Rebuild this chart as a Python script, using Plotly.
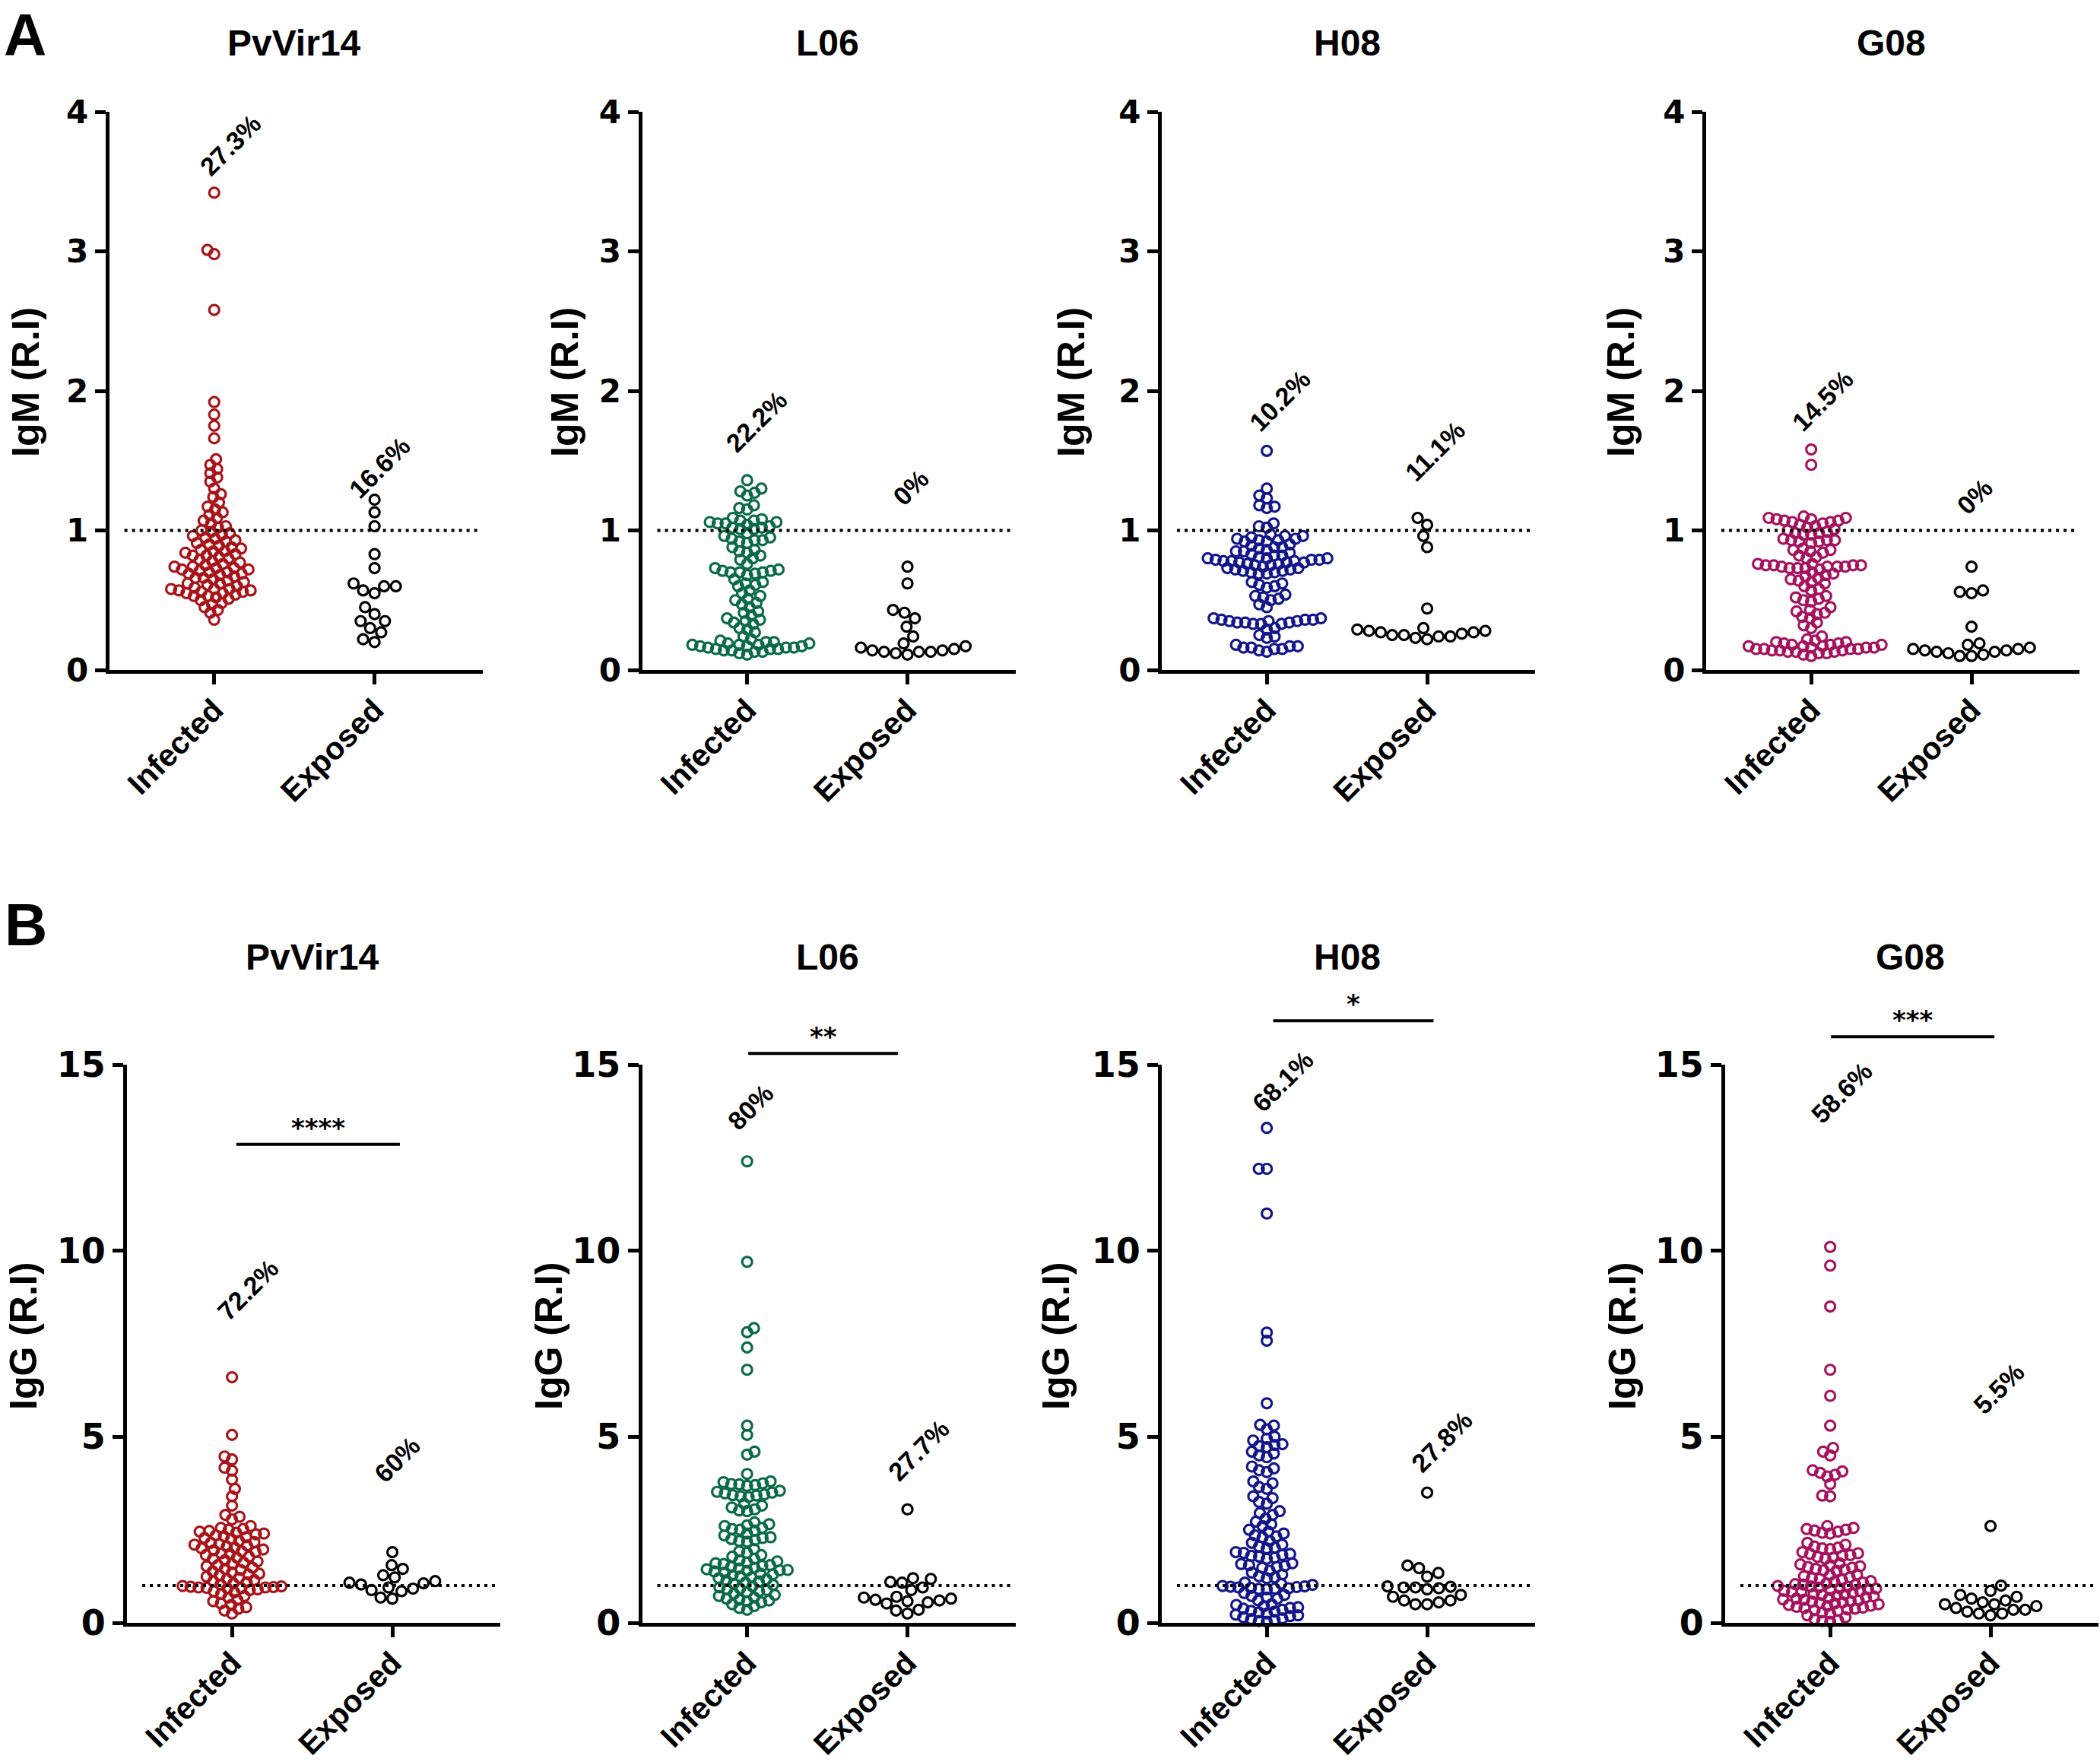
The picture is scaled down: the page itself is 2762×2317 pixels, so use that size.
import plotly.graph_objects as go

W, H = 2762, 2317

antigens = ["PvVir14", "L06", "H08", "G08"]
groups = ["Infected", "Exposed"]
colors = ["#A81419", "#0A6B46", "#13168A", "#A5125E"]

# IgM (R.I), panel A
igm_infected_pvvir14 = [3.42, 3.01, 2.98, 2.58, 1.92, 1.83, 1.75, 1.66, 1.51, 1.47, 1.44, 1.41, 1.38, 1.35,
                        1.3, 1.26, 1.24, 1.2, 1.17, 1.15, 1.13, 1.11, 1.09, 1.07, 1.05, 1.03, 1.02,
                        0.36, 0.41, 0.43, 0.45, 0.47, 0.48, 0.5, 0.51, 0.52, 0.53, 0.54, 0.55, 0.55, 0.56,
                        0.56, 0.57, 0.57, 0.58, 0.58, 0.59, 0.6, 0.61, 0.62, 0.63, 0.64, 0.65, 0.66, 0.67,
                        0.68, 0.69, 0.7, 0.7, 0.71, 0.72, 0.72, 0.73, 0.73, 0.74, 0.75, 0.76, 0.77, 0.78,
                        0.79, 0.8, 0.81, 0.82, 0.82, 0.83, 0.84, 0.85, 0.86, 0.87, 0.88, 0.89, 0.9, 0.91,
                        0.92, 0.93, 0.94, 0.95, 0.96, 0.97, 0.98, 0.99, 1.0, 0.85, 0.62, 0.58, 0.66, 0.74,
                        0.53, 0.69]
igm_exposed_pvvir14 = [0.6, 0.55, 0.45, 0.35, 0.2, 1.13, 1.03, 0.83, 0.73, 0.57, 0.35, 0.27, 1.22, 0.62,
                       0.4, 0.3, 0.22, 0.6]
igm_infected_l06 = [1.36, 1.3, 1.28, 1.27, 1.25, 1.18, 1.16, 1.15, 1.09, 1.08, 1.07, 1.07, 1.06, 1.06,
                    1.05, 1.05, 1.04, 1.03, 1.02, 1.02, 1.01, 1.01, 0.98, 0.96, 0.95, 0.94, 0.93, 0.93,
                    0.92, 0.91, 0.88, 0.86, 0.85, 0.84, 0.82, 0.8, 0.79, 0.76, 0.73, 0.72, 0.71, 0.71,
                    0.7, 0.7, 0.7, 0.69, 0.68, 0.65, 0.63, 0.62, 0.61, 0.6, 0.57, 0.55, 0.53, 0.51, 0.5,
                    0.48, 0.47, 0.45, 0.42, 0.41, 0.39, 0.37, 0.36, 0.35, 0.34, 0.33, 0.3, 0.29, 0.27,
                    0.24, 0.22, 0.21, 0.2, 0.2, 0.19, 0.19, 0.18, 0.18, 0.18, 0.17, 0.17, 0.17, 0.16,
                    0.16, 0.16, 0.15, 0.15, 0.15, 0.14, 0.14, 0.13, 0.13, 0.12, 0.11]
igm_exposed_l06 = [0.74, 0.62, 0.43, 0.41, 0.37, 0.31, 0.24, 0.19, 0.17, 0.16, 0.15, 0.14, 0.14, 0.13,
                   0.13, 0.13, 0.12, 0.11]
igm_infected_h08 = [1.57, 1.3, 1.25, 1.23, 1.18, 1.17, 1.16, 1.05, 1.03, 1.02, 0.97, 0.96, 0.96, 0.95,
                    0.94, 0.94, 0.93, 0.93, 0.92, 0.92, 0.9, 0.89, 0.88, 0.88, 0.87, 0.86, 0.85, 0.85,
                    0.84, 0.83, 0.82, 0.82, 0.81, 0.8, 0.8, 0.8, 0.79, 0.79, 0.79, 0.78, 0.78, 0.78,
                    0.77, 0.77, 0.77, 0.76, 0.76, 0.75, 0.75, 0.74, 0.73, 0.73, 0.72, 0.72, 0.71, 0.71,
                    0.7, 0.7, 0.69, 0.69, 0.63, 0.62, 0.61, 0.6, 0.59, 0.54, 0.53, 0.52, 0.51, 0.5,
                    0.47, 0.45, 0.37, 0.37, 0.36, 0.36, 0.36, 0.35, 0.35, 0.35, 0.34, 0.34, 0.34, 0.33,
                    0.33, 0.33, 0.3, 0.29, 0.25, 0.24, 0.23, 0.18, 0.17, 0.17, 0.16, 0.16, 0.15, 0.15,
                    0.14, 0.13]
igm_exposed_h08 = [1.09, 1.04, 0.96, 0.88, 0.44, 0.3, 0.29, 0.28, 0.28, 0.27, 0.27, 0.26, 0.25, 0.25,
                   0.24, 0.24, 0.23, 0.22]
igm_infected_g08 = [1.58, 1.47, 1.1, 1.09, 1.09, 1.08, 1.08, 1.07, 1.07, 1.06, 1.06, 1.05, 1.04, 1.03,
                    1.02, 1.01, 1.0, 0.99, 0.98, 0.98, 0.97, 0.97, 0.94, 0.93, 0.93, 0.93, 0.92, 0.92,
                    0.91, 0.87, 0.86, 0.86, 0.85, 0.84, 0.82, 0.81, 0.8, 0.76, 0.76, 0.75, 0.75, 0.75,
                    0.75, 0.74, 0.74, 0.74, 0.74, 0.73, 0.73, 0.73, 0.72, 0.7, 0.69, 0.68, 0.67, 0.66,
                    0.65, 0.64, 0.63, 0.62, 0.6, 0.58, 0.57, 0.53, 0.52, 0.51, 0.5, 0.49, 0.45, 0.43,
                    0.42, 0.41, 0.4, 0.38, 0.37, 0.34, 0.32, 0.3, 0.24, 0.22, 0.21, 0.2, 0.2, 0.19,
                    0.19, 0.18, 0.18, 0.18, 0.17, 0.17, 0.17, 0.16, 0.16, 0.16, 0.15, 0.15, 0.15, 0.15,
                    0.14, 0.14, 0.14, 0.13, 0.13, 0.13, 0.12, 0.12, 0.11, 0.1]
igm_exposed_g08 = [0.74, 0.57, 0.56, 0.55, 0.31, 0.19, 0.18, 0.16, 0.15, 0.15, 0.14, 0.14, 0.13, 0.13,
                   0.12, 0.11, 0.1, 0.1]

# IgG (R.I), panel B
igg_infected_pvvir14 = [6.6, 5.05, 4.47, 4.39, 4.17, 4.09, 3.85, 3.6, 3.4, 3.15, 2.9, 2.85, 2.78, 2.6,
                        2.55, 2.52, 2.5, 2.47, 2.45, 2.42, 2.4, 2.38, 2.35, 2.33, 2.3, 2.28, 2.25, 2.2,
                        2.17, 2.15, 2.12, 2.1, 2.08, 2.05, 2.02, 2.0, 1.97, 1.95, 1.92, 1.9, 1.87, 1.85,
                        1.82, 1.78, 1.75, 1.72, 1.68, 1.65, 1.62, 1.58, 1.55, 1.52, 1.48, 1.45, 1.42,
                        1.38, 1.35, 1.32, 1.3, 1.27, 1.24, 1.21, 1.18, 1.15, 1.12, 1.09, 1.06, 1.03,
                        0.99, 0.98, 0.97, 0.96, 0.95, 0.95, 0.94, 0.93, 0.92, 0.9, 0.88, 0.85, 0.82,
                        0.78, 0.72, 0.68, 0.62, 0.58, 0.52, 0.48, 0.42, 0.38, 0.33, 0.25]
igg_exposed_pvvir14 = [1.9, 1.55, 1.45, 1.28, 1.22, 1.12, 1.08, 1.06, 1.03, 0.95, 0.92, 0.88, 0.85,
                       0.68, 0.65]
igg_infected_l06 = [12.4, 9.7, 7.92, 7.81, 7.4, 6.8, 5.3, 5.05, 4.6, 4.52, 4.0, 3.8, 3.78, 3.75, 3.73,
                    3.72, 3.7, 3.68, 3.55, 3.52, 3.5, 3.48, 3.45, 3.43, 3.42, 3.4, 3.38, 3.2, 3.15, 3.1,
                    3.05, 3.02, 3.0, 2.7, 2.65, 2.62, 2.6, 2.55, 2.52, 2.5, 2.48, 2.4, 2.35, 2.3, 2.28,
                    2.25, 2.22, 2.2, 2.18, 1.98, 1.92, 1.88, 1.82, 1.78, 1.72, 1.68, 1.65, 1.62, 1.6,
                    1.58, 1.55, 1.53, 1.5, 1.48, 1.46, 1.44, 1.42, 1.41, 1.4, 1.38, 1.35, 1.32, 1.3,
                    1.28, 1.25, 1.22, 1.2, 1.17, 1.14, 1.11, 1.08, 1.05, 1.02, 0.98, 0.95, 0.92, 0.9,
                    0.88, 0.85, 0.82, 0.78, 0.75, 0.72, 0.68, 0.65, 0.62, 0.6, 0.58, 0.55, 0.5, 0.45,
                    0.4, 0.35]
igg_exposed_l06 = [3.05, 1.2, 1.18, 1.1, 1.08, 0.95, 0.88, 0.7, 0.68, 0.65, 0.62, 0.6, 0.58, 0.55, 0.52,
                   0.35, 0.33, 0.25]
igg_infected_h08 = [13.3, 12.2, 12.2, 11.0, 7.8, 7.58, 5.9, 5.32, 5.3, 5.2, 5.0, 4.95, 4.9, 4.8, 4.78,
                    4.75, 4.72, 4.6, 4.55, 4.5, 4.45, 4.2, 4.15, 4.1, 4.05, 3.8, 3.75, 3.65, 3.6, 3.4,
                    3.35, 3.25, 3.2, 3.0, 2.95, 2.9, 2.8, 2.72, 2.65, 2.6, 2.5, 2.45, 2.4, 2.35, 2.32,
                    2.3, 2.2, 2.15, 2.1, 2.05, 2.02, 2.0, 1.9, 1.88, 1.85, 1.82, 1.8, 1.78, 1.75, 1.72,
                    1.6, 1.58, 1.55, 1.53, 1.5, 1.48, 1.4, 1.35, 1.3, 1.25, 1.22, 1.2, 1.08, 1.05, 1.02,
                    0.99, 0.98, 0.97, 0.96, 0.95, 0.94, 0.93, 0.92, 0.91, 0.9, 0.8, 0.75, 0.72, 0.68,
                    0.65, 0.6, 0.5, 0.48, 0.45, 0.42, 0.4, 0.38, 0.35, 0.32, 0.3, 0.28, 0.25, 0.22, 0.2,
                    0.18, 0.15, 0.12, 0.1, 0.08, 0.05, 0.03]
igg_exposed_h08 = [3.5, 1.54, 1.47, 1.34, 1.24, 0.98, 0.97, 0.95, 0.95, 0.93, 0.9, 0.75, 0.7, 0.6, 0.6,
                   0.55, 0.5, 0.5]
igg_infected_g08 = [10.1, 9.6, 8.5, 6.8, 6.1, 5.3, 4.7, 4.6, 4.5, 4.1, 4.07, 4.03, 3.98, 3.93, 3.73,
                    3.42, 3.4, 2.6, 2.55, 2.52, 2.5, 2.48, 2.45, 2.42, 2.4, 2.15, 2.1, 2.05, 2.02, 2.0,
                    1.98, 1.9, 1.87, 1.85, 1.82, 1.8, 1.77, 1.75, 1.72, 1.6, 1.57, 1.55, 1.52, 1.5,
                    1.48, 1.45, 1.43, 1.41, 1.4, 1.3, 1.28, 1.25, 1.22, 1.2, 1.18, 1.15, 1.12, 1.1,
                    1.08, 1.06, 1.04, 1.03, 1.02, 0.99, 0.98, 0.97, 0.95, 0.93, 0.92, 0.9, 0.88, 0.86,
                    0.85, 0.83, 0.82, 0.8, 0.78, 0.76, 0.75, 0.73, 0.71, 0.69, 0.67, 0.65, 0.63, 0.62,
                    0.6, 0.58, 0.57, 0.55, 0.53, 0.52, 0.5, 0.48, 0.46, 0.45, 0.43, 0.41, 0.4, 0.38,
                    0.36, 0.34, 0.32, 0.28, 0.25, 0.2, 0.15, 0.1, 0.07, 0.05, 0.03]
igg_exposed_g08 = [2.6, 1.0, 0.86, 0.75, 0.7, 0.65, 0.6, 0.55, 0.5, 0.5, 0.45, 0.4, 0.35, 0.35, 0.3,
                   0.25, 0.25, 0.2]

igm_infected = [igm_infected_pvvir14, igm_infected_l06, igm_infected_h08, igm_infected_g08]
igm_exposed = [igm_exposed_pvvir14, igm_exposed_l06, igm_exposed_h08, igm_exposed_g08]
igg_infected = [igg_infected_pvvir14, igg_infected_l06, igg_infected_h08, igg_infected_g08]
igg_exposed = [igg_exposed_pvvir14, igg_exposed_l06, igg_exposed_h08, igg_exposed_g08]

igm_pct_infected = ["27.3%", "22.2%", "10.2%", "14.5%"]
igm_pct_exposed = ["16.6%", "0%", "11.1%", "0%"]
igg_pct_infected = ["72.2%", "80%", "68.1%", "58.6%"]
igg_pct_exposed = ["60%", "27.7%", "27.8%", "5.5%"]
igg_stars = ["****", "**", "*", "***"]

cutoff = 1

# layout (pixels of the 2762x2317 page)
XR = [-0.655, 1.675]
PX_PER_CAT = 210.8
top_box = dict(y_top=147, y_bot=881, ymax=4, dtick=1, ytitle="IgM (R.I)", title_y=57,
               ytitle_y=503, tickfont=42)
bot_box = dict(y_top=1400, y_bot=2134, ymax=15, dtick=5, ytitle="IgG (R.I)", title_y=1258,
               ytitle_y=1757, tickfont=46)
top_left = [143.6, 844.5, 1528, 2244]
bot_left = [167, 844.5, 1528, 2269]
top_ytitle_x = [34, 743, 1409, 2132]
bot_ytitle_x = [31, 722, 1389, 2134]
AX_W = 491.4
# percent label spots (data units): (x infected, y infected, x exposed, y exposed)
top_pct_pos = [(0.10, 3.76, 1.03, 1.45), (0.06, 1.78, 1.02, 1.31),
               (0.08, 1.93, 1.05, 1.57), (0.07, 1.93, 1.02, 1.24)]
bot_pct_pos = [(0.10, 8.95, 1.03, 4.4), (0.02, 13.86, 1.07, 4.64),
               (0.10, 14.55, 1.09, 4.87), (0.07, 14.25, 1.05, 6.3)]
# significance bars: (x0, x1, y bar, y stars)
bars = [(0.027, 1.047, 12.86, 13.3), (0.007, 0.94, 15.3, 15.75),
        (0.04, 1.04, 16.18, 16.63), (0.005, 1.024, 15.75, 16.2)]

BOLD = "Liberation Sans"


def swarm(values, px_y, gap):
    """Beeswarm offsets (category units) so circles don't pile up."""
    order = sorted(range(len(values)), key=lambda i: values[i])
    placed = []
    offsets = [0.0] * len(values)
    side = 1
    for i in order:
        y = values[i] * px_y
        near = [(px, py) for px, py in placed if abs(py - y) < gap]
        cands = [0.0]
        for px, py in near:
            dx = (gap ** 2 - (py - y) ** 2) ** 0.5
            cands += [px - dx, px + dx]
        free = [c for c in cands
                if all((c - px) ** 2 + (y - py) ** 2 >= gap ** 2 - 0.01 for px, py in near)]
        best = min(free, key=lambda c: (round(abs(c), 2), -side * c))
        side = -side
        offsets[i] = best
        placed.append((best, y))
    return [o / PX_PER_CAT for o in offsets]


def px2paper(x, y):
    return x / W, 1 - y / H


fig = go.Figure()
annotations = []
shapes = []

panels = []
for k in range(4):
    panels.append((top_box, top_left[k], top_ytitle_x[k], igm_infected[k], igm_exposed[k],
                   igm_pct_infected[k], igm_pct_exposed[k], top_pct_pos[k], None))
for k in range(4):
    panels.append((bot_box, bot_left[k], bot_ytitle_x[k], igg_infected[k], igg_exposed[k],
                   igg_pct_infected[k], igg_pct_exposed[k], bot_pct_pos[k], (bars[k], igg_stars[k])))

for n, (box, left, yt_x, inf, exp, p_inf, p_exp, ppos, sig) in enumerate(panels, start=1):
    k = (n - 1) % 4
    sfx = "" if n == 1 else str(n)
    xref, yref = "x" + sfx, "y" + sfx
    px_y = (box["y_bot"] - box["y_top"]) / box["ymax"]

    for gi, (vals, col, gap) in enumerate([(inf, colors[k], 10.5), (exp, "black", 15.5)]):
        off = swarm(vals, px_y, gap)
        fig.add_trace(go.Scatter(
            x=[gi + o for o in off], y=vals, mode="markers", xaxis=xref, yaxis=yref,
            marker=dict(symbol="circle-open", size=13, color=col, line=dict(width=3.2)),
            cliponaxis=False, showlegend=False, hoverinfo="y",
        ))

    x0p, _ = px2paper(left, 0)
    x1p, _ = px2paper(left + AX_W, 0)
    _, yb = px2paper(0, box["y_bot"])
    _, ytp = px2paper(0, box["y_top"])
    fig.layout["xaxis" + sfx] = dict(
        domain=[x0p, x1p], range=XR, anchor=yref, tickvals=[0, 1], ticktext=groups,
        tickangle=-45, showline=True, linewidth=5, linecolor="black", ticks="outside",
        ticklen=14, tickwidth=5, tickcolor="black", showgrid=False, zeroline=False,
        automargin=False, ticklabelstandoff=-7,
        tickfont=dict(family=BOLD, size=41, color="black", weight="bold"),
    )
    fig.layout["yaxis" + sfx] = dict(
        domain=[yb, ytp], range=[0, box["ymax"]], anchor=xref,
        tickvals=list(range(0, box["ymax"] + 1, box["dtick"])),
        showline=True, linewidth=5, linecolor="black", ticks="outside", ticklen=14,
        tickwidth=5, tickcolor="black", showgrid=False, zeroline=False, automargin=False,
        tickfont=dict(family="DejaVu Sans", size=box["tickfont"], color="black", weight="bold"),
    )

    # cut-off line
    shapes.append(dict(type="line", xref=xref, yref=yref, x0=-0.56, x1=1.64, y0=cutoff, y1=cutoff,
                       line=dict(color="black", width=4, dash="4px,6px")))

    # panel title and y title
    annotations.append(dict(text=antigens[k], xref=xref, yref="paper", x=0.5,
                            y=px2paper(0, box["title_y"])[1], showarrow=False,
                            xanchor="center", yanchor="middle",
                            font=dict(family=BOLD, size=48, color="black", weight="bold")))
    ytx, yty = px2paper(yt_x, box["ytitle_y"])
    annotations.append(dict(text=box["ytitle"], xref="paper", yref="paper", x=ytx, y=yty,
                            textangle=-90, showarrow=False, xanchor="center", yanchor="middle",
                            font=dict(family=BOLD, size=50, color="black", weight="bold")))

    # percent of positives
    for txt, (px_, py_) in [(p_inf, ppos[0:2]), (p_exp, ppos[2:4])]:
        annotations.append(dict(text=txt, xref=xref, yref=yref, x=px_, y=py_, textangle=-45,
                                showarrow=False, xanchor="center", yanchor="middle",
                                font=dict(family=BOLD, size=34, color="black", weight="bold")))

    if sig:
        (bx0, bx1, by, sy), stars = sig
        fx0 = x0p + (bx0 - XR[0]) / (XR[1] - XR[0]) * (x1p - x0p)
        fx1 = x0p + (bx1 - XR[0]) / (XR[1] - XR[0]) * (x1p - x0p)
        fy = yb + by / box["ymax"] * (ytp - yb)
        fsy = yb + sy / box["ymax"] * (ytp - yb)
        shapes.append(dict(type="line", xref="paper", yref="paper", x0=fx0, x1=fx1, y0=fy, y1=fy,
                           line=dict(color="black", width=4)))
        annotations.append(dict(text=stars, xref="paper", yref="paper", x=(fx0 + fx1) / 2, y=fsy,
                                showarrow=False, xanchor="center", yanchor="middle",
                                font=dict(family="DejaVu Sans", size=34, color="black",
                                          weight="bold")))

# panel letters
for letter, (lx, ly) in [("A", (33, 46)), ("B", (34, 1216))]:
    fx, fy = px2paper(lx, ly)
    annotations.append(dict(text=letter, xref="paper", yref="paper", x=fx, y=fy, showarrow=False,
                            xanchor="center", yanchor="middle",
                            font=dict(family=BOLD, size=78, color="black", weight="bold")))

fig.update_layout(
    width=W, height=H, margin=dict(l=0, r=0, t=0, b=0),
    paper_bgcolor="white", plot_bgcolor="white",
    annotations=annotations, shapes=shapes, showlegend=False,
)

# page body margin would push the figure 8px right/down
fig.write_html("out.html", config={"displayModeBar": False},
               post_script="document.body.style.margin = '0';")
